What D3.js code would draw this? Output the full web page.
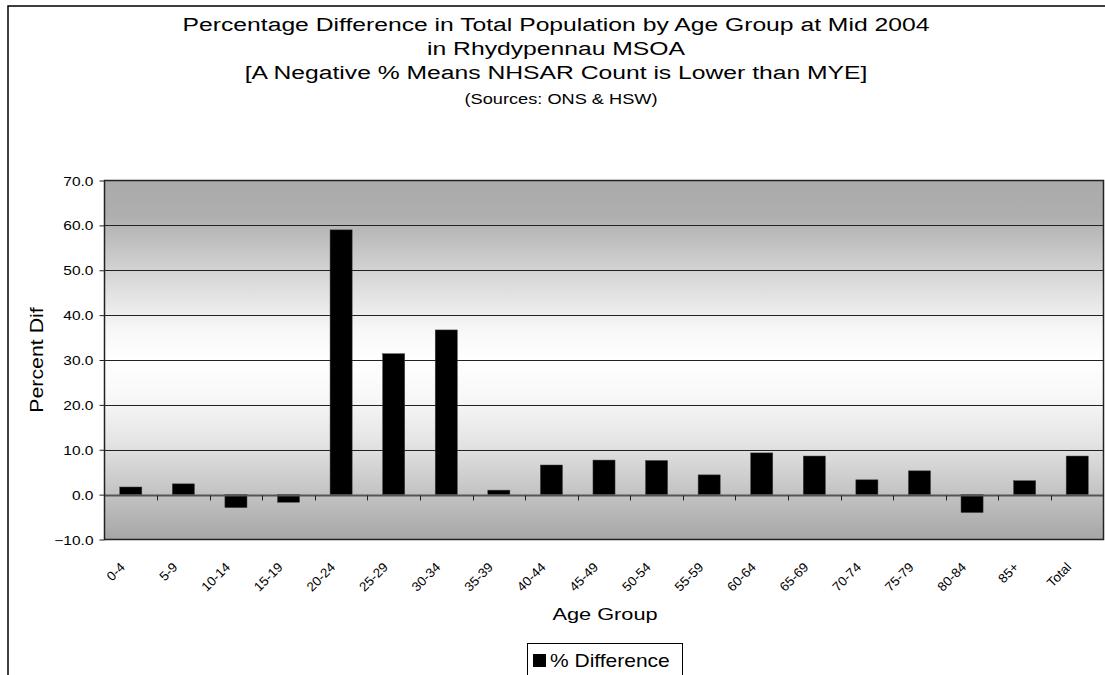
<!DOCTYPE html>
<html>
<head>
<meta charset="utf-8">
<script src="https://cdnjs.cloudflare.com/ajax/libs/d3/7.8.5/d3.min.js"></script>
<style>
  body { margin: 0; background: #fff; }
  svg { display: block; font-family: "Liberation Sans", Arial, sans-serif; }
</style>
</head>
<body>
<script>
const WIDTH = 1105;
const HEIGHT = 675;

// data
const ageGroups = ["0-4", "5-9", "10-14", "15-19", "20-24", "25-29", "30-34", "35-39", "40-44",
  "45-49", "50-54", "55-59", "60-64", "65-69", "70-74", "75-79", "80-84", "85+", "Total"];
const pctDiff = [1.7, 2.4, -2.9, -1.7, 59.0, 31.4, 36.7, 1.0, 6.6,
  7.7, 7.6, 4.4, 9.3, 8.6, 3.3, 5.3, -4.0, 3.1, 8.6];
const yTicks = [-10, 0, 10, 20, 30, 40, 50, 60, 70];
const titleLines = [
  "Percentage Difference in Total Population by Age Group at Mid 2004",
  "in Rhydypennau MSOA",
  "[A Negative % Means NHSAR Count is Lower than MYE]"
];
const subTitle = "(Sources: ONS & HSW)";
const seriesName = "% Difference";

const plot = { left: 104.5, right: 1103.5, top: 180.5, bottom: 539.5 };
// the old chart renders its text wide, so stretch along the baseline
const STRETCH = 1.27;

const svg = d3.select("body").append("svg")
  .attr("width", WIDTH)
  .attr("height", HEIGHT);

function label(parent, x, y, rot, size, anchor, txt, sx) {
  return parent.append("text")
    .attr("transform", `translate(${x},${y}) rotate(${rot}) scale(${sx || STRETCH},1)`)
    .attr("text-anchor", anchor)
    .attr("font-size", size)
    .attr("fill", "#000")
    .text(txt);
}

// outer chart frame (runs off the right and bottom edges)
svg.append("rect")
  .attr("x", 8).attr("y", 6)
  .attr("width", 1200).attr("height", 800)
  .attr("fill", "#fff")
  .attr("stroke", "#000")
  .attr("stroke-width", 1.5);

const x = d3.scaleBand()
  .domain(ageGroups)
  .range([plot.left, plot.right])
  .paddingInner(0.58)
  .paddingOuter(0.29);

const xEdge = d3.scaleLinear()
  .domain([0, ageGroups.length])
  .range([plot.left, plot.right]);

const y = d3.scaleLinear()
  .domain([-10, 70])
  .range([plot.bottom, plot.top]);

// plot background gradient
const grad = svg.append("defs").append("linearGradient")
  .attr("id", "bg")
  .attr("x1", 0).attr("y1", 0).attr("x2", 0).attr("y2", 1);
[[0, "#aaaaaa"], [0.1, "#afafaf"], [0.28, "#dadada"], [0.42, "#f8f8f8"], [0.5, "#ffffff"],
 [0.6, "#f8f8f8"], [0.72, "#e6e6e6"], [0.85, "#c8c8c8"], [1, "#a6a6a6"]]
  .forEach(s => grad.append("stop").attr("offset", s[0]).attr("stop-color", s[1]));

svg.append("rect")
  .attr("x", plot.left).attr("y", plot.top)
  .attr("width", plot.right - plot.left)
  .attr("height", plot.bottom - plot.top)
  .attr("fill", "url(#bg)");

// gridlines
svg.append("g")
  .selectAll("line")
  .data(yTicks.filter(t => t !== 0 && t !== -10 && t !== 70))
  .enter().append("line")
  .attr("x1", plot.left).attr("x2", plot.right)
  .attr("y1", d => Math.round(y(d)) + 0.5)
  .attr("y2", d => Math.round(y(d)) + 0.5)
  .attr("stroke", "#222")
  .attr("stroke-width", 1);

// bars
svg.append("g")
  .selectAll("rect")
  .data(pctDiff)
  .enter().append("rect")
  .attr("x", (d, i) => x(ageGroups[i]))
  .attr("width", x.bandwidth())
  .attr("y", d => y(Math.max(0, d)))
  .attr("height", d => Math.abs(y(d) - y(0)))
  .attr("fill", "#000")
  .attr("stroke", "#444")
  .attr("stroke-width", 0.5);

// zero line with category ticks
const zeroY = Math.round(y(0)) + 0.5;
svg.append("line")
  .attr("x1", plot.left).attr("x2", plot.right)
  .attr("y1", zeroY).attr("y2", zeroY)
  .attr("stroke", "#555")
  .attr("stroke-width", 2);

svg.append("g")
  .selectAll("line")
  .data(d3.range(1, ageGroups.length))
  .enter().append("line")
  .attr("x1", d => Math.round(xEdge(d)) + 0.5)
  .attr("x2", d => Math.round(xEdge(d)) + 0.5)
  .attr("y1", zeroY).attr("y2", zeroY + 5)
  .attr("stroke", "#222")
  .attr("stroke-width", 1);

// plot border
svg.append("rect")
  .attr("x", plot.left).attr("y", plot.top)
  .attr("width", plot.right - plot.left)
  .attr("height", plot.bottom - plot.top)
  .attr("fill", "none")
  .attr("stroke", "#222")
  .attr("stroke-width", 1.5);

// y axis
const yAxis = svg.append("g")
  .attr("transform", `translate(${plot.left},0)`)
  .call(d3.axisLeft(y).tickValues(yTicks).tickFormat(d3.format(".1f")).tickSize(5));
yAxis.select(".domain").remove();
yAxis.selectAll("line").attr("stroke", "#222");
yAxis.selectAll("text")
  .attr("x", 0)
  .attr("dy", null)
  .attr("transform", `translate(-11,4.5) scale(${STRETCH - 0.03},1)`)
  .attr("font-size", 12.5)
  .attr("font-family", "Liberation Sans, Arial, sans-serif")
  .attr("fill", "#000");

// x tick labels, rotated
const xLabels = svg.append("g");
ageGroups.forEach(d => {
  label(xLabels, x(d) + x.bandwidth() / 2 - 5, 568, -45, 13, "end", d, 1.03);
});

// axis titles
label(svg, 43, (plot.top + plot.bottom) / 2, -90, 17.5, "middle", "Percent Dif", 1.22);
label(svg, (plot.left + plot.right) / 2 + 1, 620, 0, 17, "middle", "Age Group", 1.28);

// title
titleLines.forEach((t, i) => {
  label(svg, 556, 31 + i * 24, 0, 19, "middle", t, 1.3);
});
label(svg, 561, 104, 0, 14, "middle", subTitle, 1.3);

// legend
const legend = svg.append("g").attr("transform", "translate(527,643)");
legend.append("rect")
  .attr("x", 0.5).attr("y", 0.5)
  .attr("width", 155).attr("height", 40)
  .attr("fill", "#fff")
  .attr("stroke", "#000")
  .attr("stroke-width", 1);
legend.append("rect")
  .attr("x", 6).attr("y", 11)
  .attr("width", 13).attr("height", 13)
  .attr("fill", "#000");
label(legend, 23, 24, 0, 17.5, "start", seriesName, 1.2);
</script>
</body>
</html>
